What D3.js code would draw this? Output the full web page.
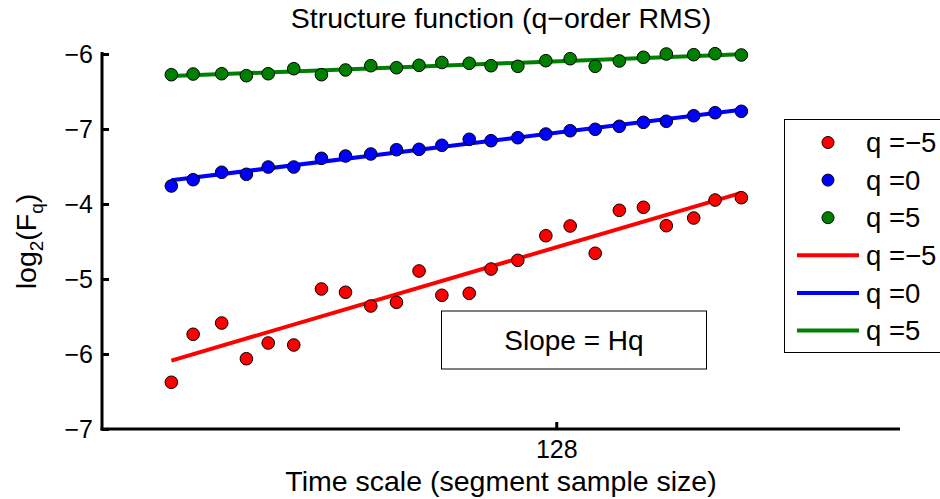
<!DOCTYPE html>
<html>
<head>
<meta charset="utf-8">
<script src="https://cdn.jsdelivr.net/npm/d3@7/dist/d3.min.js"></script>
<style>
  body { margin: 0; background: #fff; }
  svg text { font-family: "Liberation Sans", Arial, sans-serif; fill: #000; }
</style>
</head>
<body>
<svg id="chart" width="940" height="499"></svg>
<script>
// segment sizes (log2 axis)
var scales = [16, 18, 21, 24, 27, 31, 36, 41, 47, 54, 61, 69, 80, 90, 104, 121, 138, 158, 180, 205, 232, 269, 302, 348];

// log2(Fq) for each q
var fqNeg5 = [-6.377, -5.737, -5.587, -6.063, -5.853, -5.880, -5.133, -5.177, -5.360, -5.311, -4.893, -5.217,
	-5.191, -4.867, -4.751, -4.423, -4.293, -4.657, -4.084, -4.044, -4.289, -4.187, -3.947, -3.916];
var fq0 = [-3.760, -3.676, -3.577, -3.604, -3.507, -3.507, -3.391, -3.360, -3.333, -3.276, -3.271, -3.217,
	-3.137, -3.156, -3.116, -3.067, -3.023, -3.004, -2.964, -2.911, -2.897, -2.823, -2.783, -2.764];
var fq5 = [-2.276, -2.267, -2.263, -2.289, -2.263, -2.196, -2.276, -2.213, -2.156, -2.183, -2.151, -2.113,
	-2.124, -2.156, -2.164, -2.089, -2.063, -2.164, -2.093, -2.044, -2.000, -2.009, -1.996, -2.013];

var qLabels = ["q =\u22125", "q =0", "q =5"];
var qColors = ["#ff0000", "#0000ff", "#008000"];

var yTickValues = [-7, -6, -5, -4, -3, -2];
var yTickLabels = ["\u22127", "\u22126", "\u22125", "\u22124", "\u22127", "\u22126"];
var xTickValues = [128];

(function() {
	var svg = d3.select("#chart"),
		pLeft = 102, pRight = 900, pTop = 54, pBottom = 429;

	var x = d3.scaleLog().base(2).domain([11, 820]).range([pLeft, pRight]);
	var y = d3.scaleLinear().domain([-7, -2]).range([pBottom, pTop]);

	var series = [fqNeg5, fq0, fq5];

	// least squares fit in log2(scale)
	function fit(vals) {
		var lx = scales.map(function(s) { return Math.log2(s); }),
			mx = d3.mean(lx), my = d3.mean(vals),
			sxy = d3.sum(lx, function(d, i) { return (d - mx) * (vals[i] - my); }),
			sxx = d3.sum(lx, function(d) { return (d - mx) * (d - mx); }),
			b = sxy / sxx, a = my - b * mx;
		return function(s) { return a + b * Math.log2(s); };
	}

	// --- FIT LINES --- //
	series.forEach(function(vals, k) {
		var f = fit(vals),
			ends = [scales[0], scales[scales.length - 1]];
		svg.append("line")
			.attr("x1", x(ends[0])).attr("y1", y(f(ends[0])))
			.attr("x2", x(ends[1])).attr("y2", y(f(ends[1])))
			.attr("stroke", qColors[k])
			.attr("stroke-width", 4);
	});

	// --- POINTS --- //
	series.forEach(function(vals, k) {
		svg.append("g").selectAll("circle").data(vals).enter().append("circle")
			.attr("cx", function(d, i) { return x(scales[i]); })
			.attr("cy", function(d) { return y(d); })
			.attr("r", 6.3)
			.attr("fill", qColors[k])
			.attr("stroke", "#000")
			.attr("stroke-width", 1);
	});

	// --- AXES --- //
	var yAxis = d3.axisRight(y).tickValues(yTickValues)
		.tickFormat(function(d, i) { return yTickLabels[i]; })
		.tickSize(7).tickSizeOuter(0);
	var gy = svg.append("g").attr("transform", "translate(" + pLeft + ",0)").call(yAxis);
	gy.select(".domain").attr("stroke-width", 3).attr("d", "M0," + (pTop - 2) + "V" + (pBottom + 1.5));
	gy.selectAll(".tick line").attr("stroke-width", 3);
	gy.selectAll(".tick text")
		.attr("x", -9).attr("dy", "0.35em")
		.attr("text-anchor", "end")
		.style("font-size", "25px");

	var xAxis = d3.axisTop(x).tickValues(xTickValues).tickFormat(d3.format("d"))
		.tickSize(7).tickSizeOuter(0);
	var gx = svg.append("g").attr("transform", "translate(0," + pBottom + ")").call(xAxis);
	gx.select(".domain").attr("stroke-width", 3).attr("d", "M" + (pLeft - 1.5) + ",0H" + pRight);
	gx.selectAll(".tick line").attr("stroke-width", 3);
	gx.selectAll(".tick text")
		.attr("y", 29).attr("dy", 0)
		.style("font-size", "25px");
	svg.selectAll(".domain, .tick line").attr("stroke", "#000");
	svg.selectAll("g").attr("font-family", null);

	// --- LABELS --- //
	svg.append("text")
		.attr("x", (pLeft + pRight) / 2).attr("y", 28)
		.attr("text-anchor", "middle")
		.style("font-size", "28.5px")
		.text("Structure function (q\u2212order RMS)");

	svg.append("text")
		.attr("x", (pLeft + pRight) / 2).attr("y", 491)
		.attr("text-anchor", "middle")
		.style("font-size", "28.5px")
		.text("Time scale (segment sample size)");

	var yl = svg.append("text")
		.attr("transform", "translate(36," + ((pTop + pBottom) / 2) + ") rotate(-90)")
		.attr("text-anchor", "middle")
		.style("font-size", "28.5px");
	yl.append("tspan").text("log");
	yl.append("tspan").attr("dy", 7).style("font-size", "19px").text("2");
	yl.append("tspan").attr("dy", -7).text("(F");
	yl.append("tspan").attr("dy", 7).style("font-size", "19px").text("q");
	yl.append("tspan").attr("dy", -7).text(")");

	// --- SLOPE BOX --- //
	svg.append("rect")
		.attr("x", 441.5).attr("y", 311).attr("width", 265).attr("height", 58)
		.attr("fill", "#fff").attr("stroke", "#000").attr("stroke-width", 1);
	svg.append("text")
		.attr("x", 574).attr("y", 350)
		.attr("text-anchor", "middle")
		.style("font-size", "28px")
		.text("Slope = Hq");

	// --- LEGEND --- //
	var legend = svg.append("g");
	legend.append("rect")
		.attr("x", 784.5).attr("y", 119.5).attr("width", 180).attr("height", 233)
		.attr("fill", "#fff").attr("stroke", "#000").attr("stroke-width", 1);
	var rowY = d3.scaleLinear().domain([0, 5]).range([142.5, 330.5]);
	qLabels.forEach(function(lbl, k) {
		legend.append("circle")
			.attr("cx", 828).attr("cy", rowY(k)).attr("r", 6)
			.attr("fill", qColors[k]).attr("stroke", "#000").attr("stroke-width", 1);
		legend.append("line")
			.attr("x1", 797).attr("x2", 859)
			.attr("y1", rowY(k + 3)).attr("y2", rowY(k + 3))
			.attr("stroke", qColors[k]).attr("stroke-width", 4);
	});
	qLabels.concat(qLabels).forEach(function(lbl, i) {
		legend.append("text")
			.attr("x", 866).attr("y", rowY(i)).attr("dy", "0.35em")
			.style("font-size", "27.5px")
			.text(lbl);
	});
})();
</script>
</body>
</html>
